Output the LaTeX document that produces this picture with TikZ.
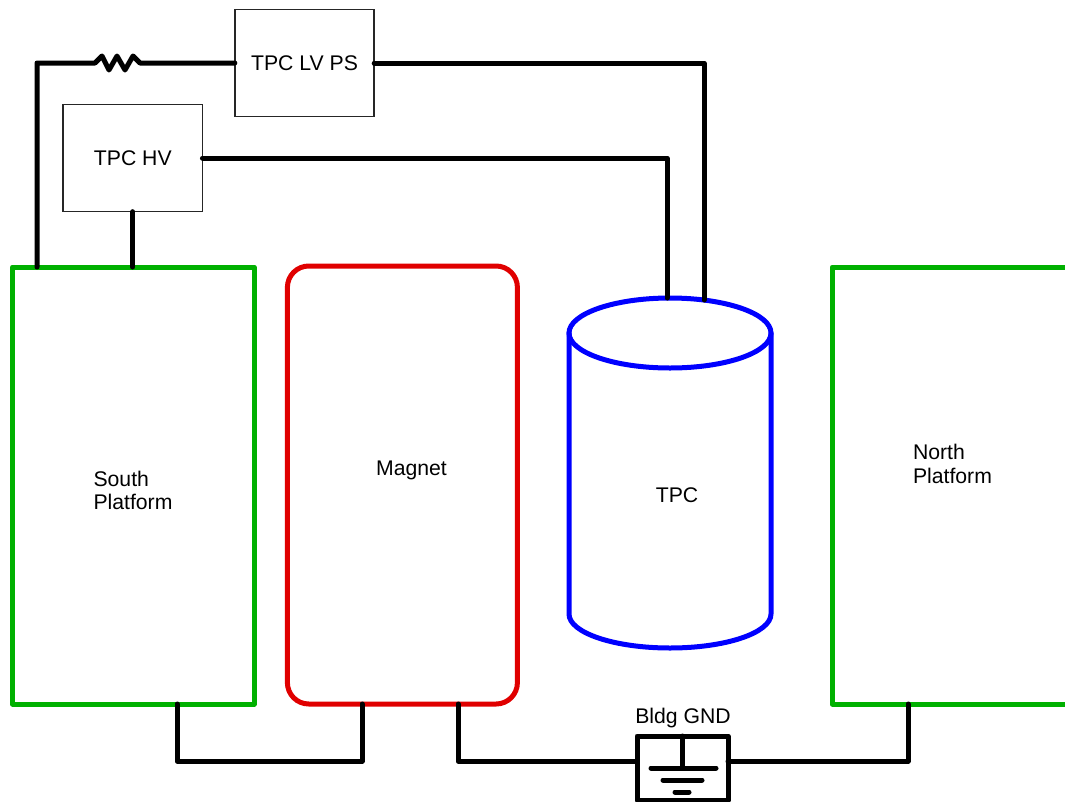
\documentclass[tikz,border=0pt]{standalone}
\usepackage{fontspec}
\setmainfont{Liberation Sans}
\definecolor{platgreen}{HTML}{00B000}
\definecolor{magred}{HTML}{E00000}
\definecolor{tpcblue}{HTML}{0000FF}
\usetikzlibrary{shapes.geometric, positioning, calc}

\begin{document}
\begin{tikzpicture}[
  x=0.75pt, y=-0.75pt,
  txt/.style={font=\fontsize{15.9}{17.6}\selectfont, align=left, inner sep=0pt},
  platform/.style={rectangle, draw=platgreen, line width=3.75pt, line join=round,
                   minimum width=181.2pt, minimum height=327.75pt, outer sep=0pt},
  supply/.style={rectangle, draw=black!85, line width=1.2pt, fill=white,
                 minimum width=104.5pt, minimum height=80.5pt, outer sep=0pt,
                 font=\fontsize{15.9}{17.6}\selectfont},
  wire/.style={line width=3.75pt, line cap=round, line join=round},
  vessel/.style={draw=tpcblue, line width=3.75pt, line cap=round}
]
  \useasboundingbox (0,0) rectangle (1065,801);

  \node[platform] (south) at (133.2,485.5) {};
  \node[platform] (north) at (953,485.5) {};
  \node[rectangle, draw=magred, line width=3.75pt, rounded corners=16pt,
    minimum width=172.5pt, minimum height=328.5pt, outer sep=0pt] (magnet) at (402.4,485) {};
  \node[ellipse, vessel, minimum width=151.5pt, minimum height=52.5pt,
    inner sep=0pt, outer sep=0pt] (tpc) at (670,333) {};
  \draw[vessel] (tpc.west) -- (569,614) arc[start angle=180, end angle=0,
    x radius=101, y radius=34] -- (tpc.east);

  \node[supply] (lvps) at (304.5,63) {TPC LV PS};
  \node[supply] (hv) at (132.8,158) {TPC HV};
  \node[rectangle, draw, line width=3.75pt, line join=round, minimum width=68.25pt,
    minimum height=48pt, outer sep=0pt] (gnd) at (682.5,768) {};

  \node[txt] (southlbl) at (133,490.5) {South\\Platform};
  \node[txt] (northlbl) at (952.5,464) {North\\Platform};
  \node[txt] (magnetlbl) at (411.5,470) {Magnet};
  \node[txt] (tpclbl) at (677,495) {TPC};
  \node[txt] (gndlbl) at (683,718.5) {Bldg GND};

  \coordinate (resl) at (95,63);
  \coordinate (resr) at (140,63);
  \coordinate (lvdrop) at (37,267);
  \coordinate (lvin) at (704,300);
  \coordinate (hvin) at (667,298);
  \coordinate (southout) at (177,704);
  \coordinate (magl) at (362,704);
  \coordinate (magr) at (458,704);
  \coordinate (northout) at (908,704);
  \coordinate (gndl) at (637,761);
  \coordinate (gndr) at (728,761);

  \draw[wire] (lvdrop) |- (resl) -- ++(7,-7) -- ++(7,14) -- ++(8,-14)
    -- ++(8,14) -- ++(8,-14) -- (resr) -- (lvps.west);
  \draw[wire] (lvps.east) -| (lvin);
  \draw[wire] (hv.east) -| (hvin);
  \draw[wire] (hv.south) -- (south.north -| hv.south);

  \draw[wire] (southout) -- ++(0,57) -| (magl);
  \draw[wire] (magr) |- (gndl);
  \draw[wire] (northout) |- (gndr);

  % ground symbol
  \draw[wire] (gnd.north) -- (682.5,768);
  \draw[wire] (651,768) -- (716,768);
  \draw[wire] (663,780) -- (702,780);
  \draw[wire] (675,792) -- (689,792);
\end{tikzpicture}
\end{document}
